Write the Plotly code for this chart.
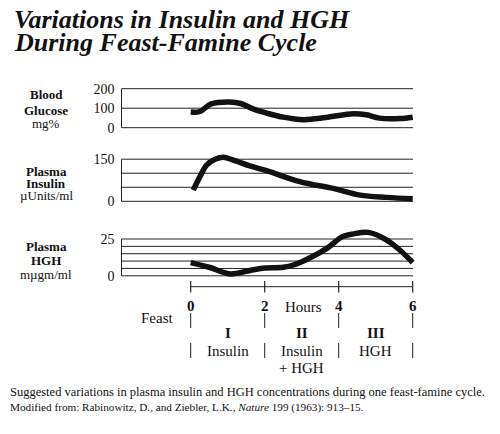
import plotly.graph_objects as go

# ---------------- data ----------------
glucose_hours = [0, 0.25, 0.55, 1.05, 1.35, 1.7, 2.05, 2.5, 3.05, 3.65, 4.4, 4.75, 5.1, 5.65, 6.0]
glucose_mg = [80, 83, 122, 132, 124, 95, 75, 54, 41, 52, 72, 66, 49, 47, 54]

insulin_hours = [0.07, 0.25, 0.43, 0.66, 0.88, 1.15, 1.6, 2.05, 2.95, 3.85, 4.58, 5.3, 6.0]
insulin_uu = [40, 88, 129, 150, 157, 147, 126, 109, 70, 46, 22, 14, 9]

hgh_hours = [0, 0.5, 1.06, 1.6, 2.0, 2.5, 2.8, 3.2, 3.7, 4.1, 4.4, 4.8, 5.3, 5.65, 6.0]
hgh_mug = [9, 5.8, 1.3, 3.6, 5.3, 5.8, 7.5, 11.9, 19, 26.6, 28.5, 29.5, 24.3, 17.5, 9]

glucose_grid = [0, 100, 200]
glucose_ticks = ["0", "100", "200"]
insulin_grid = [0, 50, 100, 150]
insulin_ticks = ["0", "", "", "150"]
hgh_grid = [0, 5, 10, 15, 20, 25]
hgh_ticks = ["0", "", "", "", "", "25"]

hour_ticks = [0, 2, 4, 6]
phase_centers = [1, 3, 5]
phase_numerals = ["I", "II", "III"]
phase_line1 = ["Insulin", "Insulin", "HGH"]
phase_line2 = ["", "+ HGH", ""]

# ---------------- layout helpers ----------------
# The page body has an 8px margin, so the figure is drawn 8px in from the window corner.
OFF = 8
W, H = 500 - OFF, 434 - OFF

PX0, PX_PER_H = 190.7, 37.0          # window pixel of hour 0, pixels per hour
x_range = [-(PX0 - OFF) / PX_PER_H, (W - (PX0 - OFF)) / PX_PER_H]
GRID_LEFT = (121.5 - PX0) / PX_PER_H
GRID_RIGHT = 6.01


def py(p):
    return 1 - (p - OFF) / H


def px(p):
    return (p - OFF) / W


def dom(v0, p0, v1, p1, lo, hi):
    k = (p1 - p0) / (v1 - v0)
    pl = p0 + (lo - v0) * k
    ph = p0 + (hi - v0) * k
    return [py(pl), py(ph)], [lo, hi]


g_dom, g_rng = dom(0, 127.7, 200, 88.7, -40, 240)
i_dom, i_rng = dom(0, 201.3, 150, 159.2, -30, 180)
h_dom, h_rng = dom(0, 275.8, 25, 239.0, -6, 34)

SERIF = "Liberation Serif"
INK = "#111111"
LINE_W = 5.5

fig = go.Figure()
for xs, ys, ax in [(glucose_hours, glucose_mg, "y"),
                   (insulin_hours, insulin_uu, "y2"),
                   (hgh_hours, hgh_mug, "y3")]:
    fig.add_trace(go.Scatter(x=xs, y=ys, xaxis="x", yaxis=ax, mode="lines",
                             line=dict(color=INK, width=LINE_W, shape="spline", smoothing=1.0),
                             hoverinfo="skip", showlegend=False))

shapes = []
for grid, ref in [(glucose_grid, "y"), (insulin_grid, "y2"), (hgh_grid, "y3")]:
    for v in grid:
        shapes.append(dict(type="line", xref="x", yref=ref, x0=GRID_LEFT, x1=GRID_RIGHT,
                           y0=v, y1=v, line=dict(color="#222222", width=1), layer="below"))
    shapes.append(dict(type="line", xref="x", yref=ref, x0=GRID_LEFT, x1=GRID_LEFT,
                       y0=grid[0], y1=grid[-1], line=dict(color="#222222", width=1), layer="below"))

# time axis
shapes.append(dict(type="line", xref="x", yref="paper", x0=hour_ticks[0], x1=hour_ticks[-1],
                   y0=py(286.7), y1=py(286.7), line=dict(color="#222222", width=1)))
for t in hour_ticks:
    shapes.append(dict(type="line", xref="x", yref="paper", x0=t, x1=t,
                       y0=py(281), y1=py(292.5), line=dict(color="#222222", width=1.2)))
    shapes.append(dict(type="line", xref="x", yref="paper", x0=t, x1=t,
                       y0=py(313), y1=py(373),
                       line=dict(color="#222222", width=1, dash="longdash")))

ann = []


def txt(x, y, text, size, bold=False, italic=False, xanchor="center", xref="paper"):
    s = text
    if bold:
        s = "<b>" + s + "</b>"
    if italic:
        s = "<i>" + s + "</i>"
    ann.append(dict(x=x if xref != "paper" else px(x), y=py(y), xref=xref, yref="paper",
                    text=s, showarrow=False, xanchor=xanchor, yanchor="middle",
                    font=dict(family=SERIF, size=size, color=INK)))


# title
txt(12, 20, "Variations in Insulin and HGH", 26, bold=True, italic=True, xanchor="left")
txt(12, 42.5, "During Feast-Famine Cycle", 26, bold=True, italic=True, xanchor="left")

# panel labels
txt(46, 95, "Blood", 13, bold=True)
txt(46, 110, "Glucose", 13, bold=True)
txt(46, 124, "mg%", 13)
txt(46, 171.5, "Plasma", 13, bold=True)
txt(46, 183.5, "Insulin", 13, bold=True)
txt(46, 195, "µUnits/ml", 13)
txt(46, 246.5, "Plasma", 13, bold=True)
txt(46, 260.5, "HGH", 13, bold=True)
txt(46, 274, "mµgm/ml", 13)

# time axis labels
for t in hour_ticks:
    txt(t, 305.5, str(t), 15, bold=True, xref="x")
txt(303, 306.5, "Hours", 15)
txt(157, 318, "Feast", 15)
for c, n, l1, l2 in zip(phase_centers, phase_numerals, phase_line1, phase_line2):
    txt(c, 333, n, 15, bold=True, xref="x")
    txt(c, 351, l1, 15, xref="x")
    if l2:
        txt(c, 368, l2, 15, xref="x")

# caption
txt(8, 392, "Suggested variations in plasma insulin and HGH concentrations during one feast-famine cycle.",
    12.5, xanchor="left")
txt(8, 407, "Modified from: Rabinowitz, D., and Ziebler, L.K., <i>Nature</i> 199 (1963): 913–15.",
    11.2, xanchor="left")

yax_common = dict(showgrid=False, zeroline=False, showline=False, ticks="",
                  anchor="free", position=px(121.5), ticklabelstandoff=7,
                  tickfont=dict(family=SERIF, size=14, color=INK), fixedrange=True)

fig.update_layout(
    width=W, height=H,
    margin=dict(l=0, r=0, t=0, b=0),
    paper_bgcolor="white", plot_bgcolor="rgba(0,0,0,0)",
    showlegend=False,
    xaxis=dict(domain=[0, 1], range=x_range, visible=False, fixedrange=True),
    yaxis=dict(domain=g_dom, range=g_rng, tickvals=glucose_grid, ticktext=glucose_ticks, **yax_common),
    yaxis2=dict(domain=i_dom, range=i_rng, tickvals=insulin_grid, ticktext=insulin_ticks, **yax_common),
    yaxis3=dict(domain=h_dom, range=h_rng, tickvals=hgh_grid, ticktext=hgh_ticks, **yax_common),
    shapes=shapes,
    annotations=ann,
)

fig.write_html("out.html")
